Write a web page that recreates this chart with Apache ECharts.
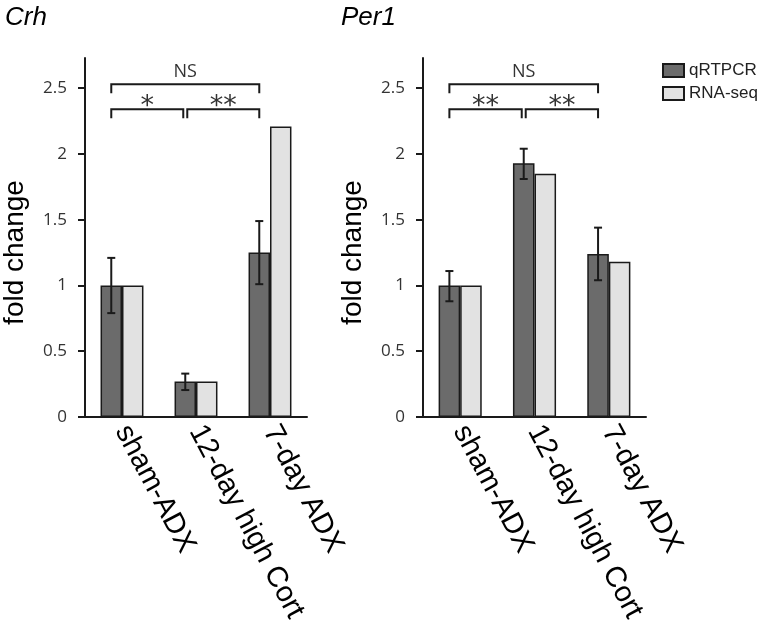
<!DOCTYPE html>
<html>
<head>
<meta charset="utf-8">
<style>html,body{margin:0;padding:0;background:#fff;}#chart{width:762px;height:638px;}</style>
<script src="https://cdn.jsdelivr.net/npm/echarts@6/dist/echarts.min.js"></script>
</head>
<body>
<div id="chart"></div>
<script>
// data
var categories = ['sham-ADX', '12-day high Cort', '7-day ADX'];
var seriesNames = ['qRTPCR', 'RNA-seq'];
var yTicks = [0, 0.5, 1, 1.5, 2, 2.5];

var crhQpcr = [1.0, 0.27, 1.25];
var crhErrLow = [0.79, 0.205, 1.01];
var crhErrHigh = [1.21, 0.33, 1.49];
var crhRnaSeq = [1.0, 0.27, 2.21];

var per1Qpcr = [1.0, 1.93, 1.24];
var per1ErrLow = [0.88, 1.81, 1.04];
var per1ErrHigh = [1.11, 2.04, 1.44];
var per1RnaSeq = [1.0, 1.85, 1.18];

// significance brackets (category index from/to, height)
var bracketFrom = [0, 0, 1];
var bracketTo = [2, 1, 2];
var bracketLevel = [2.53, 2.34, 2.34];
var crhBracketText = ['NS', '*', '**'];
var per1BracketText = ['NS', '**', '**'];

var BAR_FRAC = 0.29;
var DARK = '#6b6b6b';
var LIGHT = '#e2e2e2';
var INK = '#1a1a1a';

function errRender(params, api) {
  var band = api.size([1, 0])[0];
  var i = api.value(0);
  var x = api.coord([i, 0])[0] - band * BAR_FRAC / 2;
  var lo = api.coord([i, api.value(1)])[1];
  var hi = api.coord([i, api.value(2)])[1];
  var st = { stroke: INK, lineWidth: 2 };
  return {
    type: 'group',
    children: [
      { type: 'line', shape: { x1: x, y1: lo, x2: x, y2: hi }, style: st },
      { type: 'line', shape: { x1: x - 4, y1: hi, x2: x + 4, y2: hi }, style: st },
      { type: 'line', shape: { x1: x - 4, y1: lo, x2: x + 4, y2: lo }, style: st }
    ]
  };
}

function bracketRender(texts) {
  return function (params, api) {
    var band = api.size([1, 0])[0];
    var off = band * BAR_FRAC / 2;
    var a = api.value(0), b = api.value(1);
    var x1 = api.coord([a, 0])[0] - off;
    var x2 = api.coord([b, 0])[0] - off;
    if (a === 1) x1 += 2;
    if (b === 1) x2 -= 2;
    var y = api.coord([0, api.value(2)])[1];
    var txt = texts[params.dataIndex];
    var star = txt.indexOf('*') >= 0;
    return {
      type: 'group',
      children: [
        {
          type: 'polyline',
          shape: { points: [[x1, y + 9], [x1, y], [x2, y], [x2, y + 9]] },
          style: { stroke: INK, lineWidth: 2, fill: null }
        },
        {
          type: 'text',
          x: (x1 + x2) / 2,
          y: star ? y - 2 : y - 12,
          style: {
            text: txt,
            fill: '#333',
            fontFamily: star ? 'DejaVu Sans' : 'Open Sans',
            fontSize: star ? 27 : 18,
            align: 'center',
            verticalAlign: 'middle'
          }
        }
      ]
    };
  };
}

function zip3(a, b, c) {
  return a.map(function (v, i) { return [i, b[i], c[i]]; });
}
function bracketData() {
  return bracketFrom.map(function (f, i) { return [f, bracketTo[i], bracketLevel[i]]; });
}

function makeX(gridIndex) {
  return {
    type: 'category', gridIndex: gridIndex, data: categories,
    axisLine: { lineStyle: { color: INK, width: 2 } },
    axisTick: { show: false },
    axisLabel: {
      interval: 0, rotate: -62, margin: 10,
      color: '#000', fontSize: 29, fontFamily: 'Liberation Sans'
    }
  };
}
function makeY(gridIndex) {
  return {
    type: 'value', gridIndex: gridIndex, min: 0, max: 2.73,
    name: 'fold change', nameLocation: 'middle', nameGap: 56,
    nameTextStyle: { fontSize: 28, color: '#000', fontFamily: 'Liberation Sans', padding: [0, 30, 0, 0] },
    axisLine: { show: true, lineStyle: { color: INK, width: 2 } },
    axisTick: { show: true, length: 7, lineStyle: { color: INK, width: 2 }, customValues: yTicks },
    axisLabel: { customValues: yTicks, margin: 18, fontSize: 17, color: '#333', fontFamily: 'Open Sans' },
    splitLine: { show: false }
  };
}

function barSeries(name, data, color, idx) {
  return {
    name: name, type: 'bar', xAxisIndex: idx, yAxisIndex: idx,
    data: data, barWidth: (BAR_FRAC * 100) + '%', barGap: '0%',
    itemStyle: { color: color, borderColor: INK, borderWidth: 1.5 }
  };
}

var titleStyle = { fontSize: 26, fontStyle: 'italic', fontWeight: 'normal', color: '#000', fontFamily: 'Liberation Sans' };

var chart = echarts.init(document.getElementById('chart'), null, { renderer: 'canvas' });
chart.setOption({
  backgroundColor: '#fff',
  animation: false,
  title: [
    { text: 'Crh', left: 0, top: 0, textStyle: titleStyle },
    { text: 'Per1', left: 336, top: 0, textStyle: titleStyle }
  ],
  legend: {
    data: seriesNames, orient: 'vertical', left: 657, top: 57,
    icon: 'rect', itemWidth: 21, itemHeight: 13, itemGap: 6,
    textStyle: { fontSize: 17, color: '#222', fontFamily: 'Liberation Sans' }
  },
  grid: [
    { left: 83, top: 58, width: 224, height: 359 },
    { left: 423, top: 58, width: 223, height: 359 }
  ],
  xAxis: [makeX(0), makeX(1)],
  yAxis: [makeY(0), makeY(1)],
  series: [
    barSeries(seriesNames[0], crhQpcr, DARK, 0),
    barSeries(seriesNames[1], crhRnaSeq, LIGHT, 0),
    barSeries(seriesNames[0], per1Qpcr, DARK, 1),
    barSeries(seriesNames[1], per1RnaSeq, LIGHT, 1),
    { type: 'custom', xAxisIndex: 0, yAxisIndex: 0, z: 5, renderItem: errRender,
      encode: { x: 0, y: [1, 2] }, data: zip3(crhQpcr, crhErrLow, crhErrHigh) },
    { type: 'custom', xAxisIndex: 1, yAxisIndex: 1, z: 5, renderItem: errRender,
      encode: { x: 0, y: [1, 2] }, data: zip3(per1Qpcr, per1ErrLow, per1ErrHigh) },
    { type: 'custom', xAxisIndex: 0, yAxisIndex: 0, z: 5, renderItem: bracketRender(crhBracketText),
      encode: { x: [0, 1], y: 2 }, data: bracketData() },
    { type: 'custom', xAxisIndex: 1, yAxisIndex: 1, z: 5, renderItem: bracketRender(per1BracketText),
      encode: { x: [0, 1], y: 2 }, data: bracketData() }
  ]
});
</script>
</body>
</html>
